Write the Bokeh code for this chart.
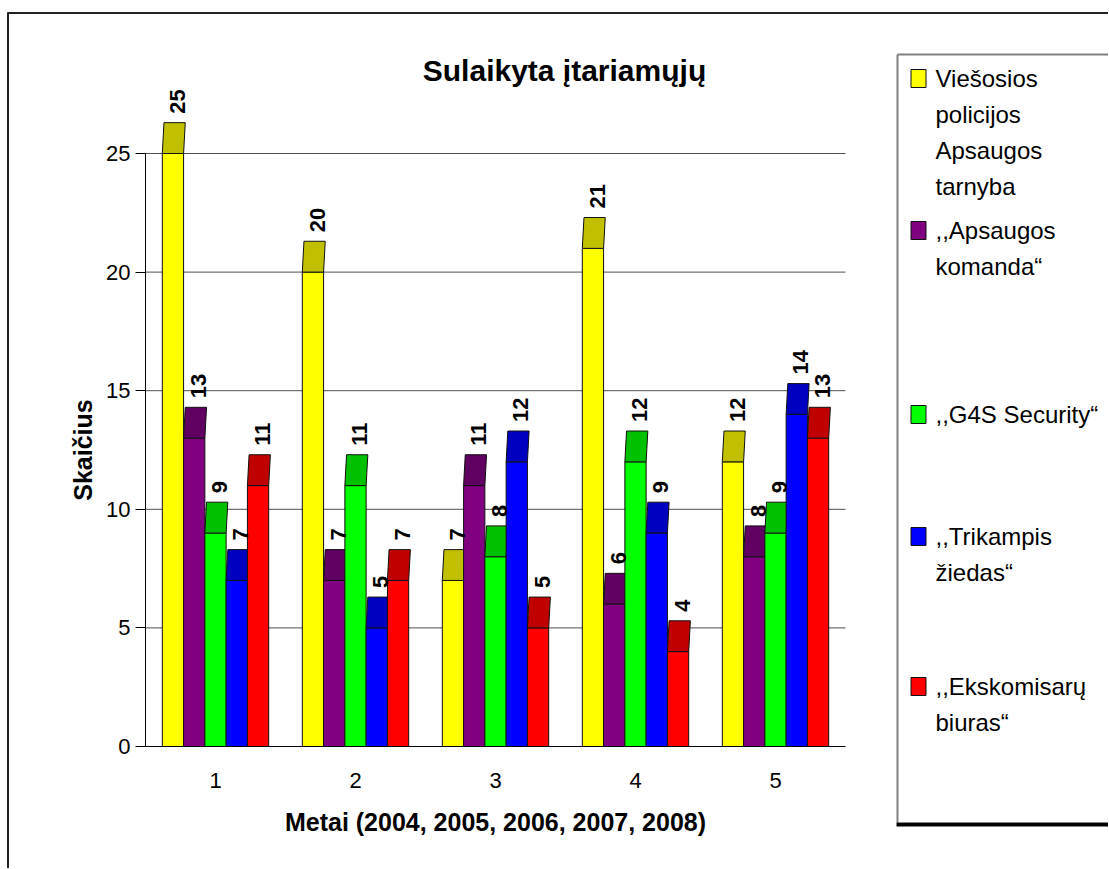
import numpy as np
from bokeh.plotting import figure
from bokeh.models import Range1d, FixedTicker
from bokeh.core.properties import value
from bokeh.embed import file_html
from bokeh.resources import INLINE

# ---------------- data ----------------
years = ["1", "2", "3", "4", "5"]
series_names = ["Viešosios policijos Apsaugos tarnyba", ",,Apsaugos komanda“",
                ",,G4S Security“", ",,Trikampis žiedas“", ",,Ekskomisarų biuras“"]
legend_lines = [["Viešosios", "policijos", "Apsaugos", "tarnyba"],
                [",,Apsaugos", "komanda“"],
                [",,G4S Security“"],
                [",,Trikampis", "žiedas“"],
                [",,Ekskomisarų", "biuras“"]]
viesosios = [25, 20, 7, 21, 12]
apsaugos_komanda = [13, 7, 11, 6, 8]
g4s_security = [9, 11, 8, 12, 9]
trikampis_ziedas = [7, 5, 12, 9, 14]
ekskomisaru_biuras = [11, 7, 5, 4, 13]
y_ticks = [0, 5, 10, 15, 20, 25]
title_text = "Sulaikyta įtariamųjų"
x_label = "Metai (2004, 2005, 2006, 2007, 2008)"
y_label = "Skaičius"

series_values = [viesosios, apsaugos_komanda, g4s_security, trikampis_ziedas, ekskomisaru_biuras]
front_colors = ["#FFFF00", "#800080", "#00FF00", "#0000FF", "#FF0000"]
top_colors = ["#C0C000", "#600060", "#00C000", "#0000C0", "#C00000"]

FONT = value("Liberation Sans")

# ---------------- geometry ----------------
W, H = 1108, 868
ORIG = 0.0                  # page px of the figure's top-left corner
X0, PXU = 145.0, 140.0      # page px of x=0.5, px per category
Y0, PYU = 746.0, 23.72      # page px of y=0, px per unit
x_start = 0.5 - (X0 - ORIG) / PXU
x_end = x_start + W / PXU
y_end = (Y0 - ORIG) / PYU
y_start = y_end - H / PYU

def dx(px):
    return 0.5 + (px - X0) / PXU

def dy(py):
    return (Y0 - py) / PYU

p = figure(width=W, height=H, output_backend="svg", toolbar_location=None,
           x_range=Range1d(x_start, x_end), y_range=Range1d(y_start, y_end),
           min_border=0)
p.title.visible = False
p.outline_line_color = None
p.background_fill_color = "white"
p.border_fill_color = "white"
p.grid.visible = False

# gridlines
gl = y_ticks[1:]
p.segment(x0=[0.5] * len(gl), x1=[5.5] * len(gl), y0=gl, y1=gl,
          line_color="#505050", line_width=1)

# bars
bw = 0.152
cap_h = 1.3
skew = 0.012
label_pts = []
for k, vals in enumerate(series_values):
    xs = [i + 1 + (k - 2) * bw for i in range(len(vals))]
    p.vbar(x=xs, top=vals, bottom=0, width=bw, fill_color=front_colors[k],
           line_color="#111111", line_width=1)
    pxs = [[x - bw / 2, x + bw / 2, x + bw / 2 + skew, x - bw / 2 + skew] for x in xs]
    pys = [[v, v, v + cap_h, v + cap_h] for v in vals]
    p.patches(xs=pxs, ys=pys, fill_color=top_colors[k], line_color="#111111", line_width=1)
    for x, v in zip(xs, vals):
        label_pts.append((x + 0.03, v + cap_h + 0.38, str(v)))

p.text(x=[a for a, b, c in label_pts], y=[b for a, b, c in label_pts],
       text=[c for a, b, c in label_pts], angle=np.pi / 2,
       text_align="left", text_baseline="middle", text_font=FONT,
       text_font_style="bold", text_font_size="22px", text_color="black")

# axes
yax = p.yaxis[0]
yax.fixed_location = 0.5
yax.bounds = (0, 25)
yax.ticker = FixedTicker(ticks=y_ticks)
yax.minor_tick_line_color = None
yax.major_tick_out = 10
yax.major_tick_in = 0
yax.major_label_standoff = 5
yax.major_label_text_font = "Liberation Sans"
yax.major_label_text_font_size = "22px"
yax.major_label_text_color = "black"
yax.axis_line_color = "black"
yax.major_tick_line_color = "black"
yax.axis_label = y_label
yax.axis_label_text_font = "Liberation Sans"
yax.axis_label_text_font_style = "bold"
yax.axis_label_text_font_size = "25px"
yax.axis_label_text_color = "black"
yax.axis_label_standoff = 6

xax = p.xaxis[0]
xax.fixed_location = 0
xax.bounds = (0.5, 5.5)
xax.ticker = FixedTicker(ticks=[1, 2, 3, 4, 5])
xax.major_label_overrides = {i + 1: years[i] for i in range(len(years))}
xax.minor_tick_line_color = None
xax.major_tick_line_color = None
xax.major_tick_out = 0
xax.major_tick_in = 0
xax.major_label_standoff = 26
xax.major_label_text_font = "Liberation Sans"
xax.major_label_text_font_size = "22px"
xax.major_label_text_color = "black"
xax.axis_line_color = "black"
xax.axis_label = x_label
xax.axis_label_text_font = "Liberation Sans"
xax.axis_label_text_font_style = "bold"
xax.axis_label_text_font_size = "25px"
xax.axis_label_text_color = "black"
xax.axis_label_standoff = 17

# title
p.text(x=[dx(564)], y=[dy(70)], text=[title_text], text_align="center",
       text_baseline="alphabetic", text_font=FONT, text_font_style="bold",
       text_font_size="30px", text_color="black")

# outer border (top and left)
p.segment(x0=[dx(7), dx(7.5)], x1=[dx(1109), dx(7.5)], y0=[dy(12.5), dy(12)], y1=[dy(12.5), dy(869)],
          line_color="#222222", line_width=2)

# legend box
p.segment(x0=[dx(897), dx(897)], x1=[dx(897), dx(1109)], y0=[dy(54), dy(54)], y1=[dy(822), dy(54)],
          line_color="#808080", line_width=2)
p.segment(x0=[dx(896)], x1=[dx(1109)], y0=[dy(824)], y1=[dy(824)],
          line_color="black", line_width=4)

first_line_y = [78, 230, 414, 536, 686]
pitch = 36
sw_x, sw_y = [], []
tx, ty, tt = [], [], []
for k, lines in enumerate(legend_lines):
    sw_x.append(dx(918))
    sw_y.append(dy(first_line_y[k]))
    for j, line in enumerate(lines):
        tx.append(dx(935))
        ty.append(dy(first_line_y[k] + j * pitch))
        tt.append(line)
p.rect(x=sw_x, y=sw_y, width=15, height=18, width_units="screen", height_units="screen",
       fill_color=front_colors, line_color="#111111", line_width=1)
p.text(x=tx, y=ty, text=tt, text_align="left", text_baseline="middle",
       text_font=FONT, text_font_size="24px", text_color="black")

open("out.html", "w").write(file_html(p, INLINE))
